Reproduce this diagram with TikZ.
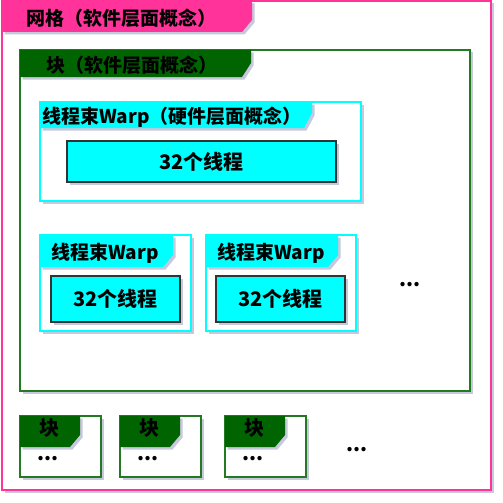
\documentclass[tikz,border=0pt]{standalone}
\usepackage{fontspec}
\newfontfamily\cjk{Noto Sans CJK SC}
\usetikzlibrary{shadows}

\definecolor{gridpink}{RGB}{255,51,153}
\definecolor{blockgreen}{RGB}{0,100,0}
\definecolor{blockline}{RGB}{35,122,35}
\definecolor{warpcyan}{RGB}{0,255,255}
\definecolor{shadowgray}{RGB}{175,178,205}

\begin{document}
\begin{tikzpicture}[x=1pt, y=-1pt, font=\cjk\bfseries\fontsize{20}{22}\selectfont]

% Define styles
\tikzstyle{shade} = [drop shadow={shadow xshift=2.5pt, shadow yshift=-2.5pt, fill=shadowgray, opacity=0.7}]
\tikzstyle{frame} = [rectangle, fill=white, line width=1.2pt, outer sep=0pt, inner sep=0pt, shade]
\tikzstyle{gridframe} = [frame, draw=gridpink]
\tikzstyle{blockframe} = [frame, draw=blockline]
\tikzstyle{warpframe} = [frame, draw=warpcyan]
\tikzstyle{gridtab} = [fill=gridpink, shade]
\tikzstyle{blocktab} = [fill=blockgreen, shade]
\tikzstyle{warptab} = [fill=warpcyan, shade]
\tikzstyle{threads} = [rectangle, draw=black!80, line width=1.6pt, fill=warpcyan, outer sep=0pt, shade]
\tikzstyle{title} = [anchor=west, inner sep=0pt, font=\cjk\bfseries\fontsize{19}{21}\selectfont]
\tikzstyle{more} = [inner sep=0pt, text height=4pt, text depth=0pt]

\useasboundingbox (0,0) rectangle (503,503);

% Grid
\node [gridframe, minimum width=489pt, minimum height=489pt] (grid) at (246.5,245.5) {};
\fill [gridtab] (grid.north west) -- ++(250,0) -- ++(0,19) -- ++(-10,12) -- ++(-240,0) -- cycle;
\node [title] (grid_title) at (26,18) {网格（软件层面概念）};

% Block
\node [blockframe, minimum width=450pt, minimum height=341pt] (block) at (245,220.5) {};
\fill [blocktab] (block.north west) -- ++(231,0) -- ++(0,13) -- ++(-9,14) -- ++(-222,0) -- cycle;
\node [title] (block_title) at (46,65) {块（软件层面概念）};

% Warp with title
\node [warpframe, minimum width=321pt, minimum height=99pt] (warp) at (200.5,151.5) {};
\fill [warptab] (warp.north west) -- ++(272,0) -- ++(0,11) -- ++(-8,15) -- ++(-264,0) -- cycle;
\node [title] (warp_title) at (42,117) {线程束Warp（硬件层面概念）};
\node [threads, minimum width=269pt, minimum height=41pt] (warp_threads) at (201.5,161.5) {32个线程};

% Two more warps
\node [warpframe, minimum width=151pt, minimum height=96pt] (warp_b) at (115.5,283) {};
\fill [warptab] (warp_b.north west) -- ++(133,0) -- ++(0,20) -- ++(-10,12) -- ++(-123,0) -- cycle;
\node [title] (warp_b_title) at (51,253) {线程束Warp};
\node [threads, minimum width=129pt, minimum height=46pt] (warp_b_threads) at (115.5,299) {32个线程};

\node [warpframe, minimum width=150pt, minimum height=96pt] (warp_c) at (281,283) {};
\fill [warptab] (warp_c.north west) -- ++(132,0) -- ++(0,20) -- ++(-10,12) -- ++(-122,0) -- cycle;
\node [title] (warp_c_title) at (217,253) {线程束Warp};
\node [threads, minimum width=129pt, minimum height=46pt] (warp_c_threads) at (280.5,299) {32个线程};

\node [more] (warp_more) at (410,284) {...};

% Other blocks
\node [blockframe, minimum width=81pt, minimum height=61pt] (block_b) at (60.5,446.5) {};
\fill [blocktab] (block_b.north west) -- ++(60,0) -- ++(0,19) -- ++(-10,12) -- ++(-50,0) -- cycle;
\node [more] (block_b_title) at (49,433) {块};
\node [more] (block_b_more) at (48,458) {...};

\node [blockframe, minimum width=81pt, minimum height=61pt] (block_c) at (160.5,446.5) {};
\fill [blocktab] (block_c.north west) -- ++(60,0) -- ++(0,19) -- ++(-10,12) -- ++(-50,0) -- cycle;
\node [more] (block_c_title) at (149,433) {块};
\node [more] (block_c_more) at (148,458) {...};

\node [blockframe, minimum width=81pt, minimum height=61pt] (block_d) at (265.5,446.5) {};
\fill [blocktab] (block_d.north west) -- ++(60,0) -- ++(0,19) -- ++(-10,12) -- ++(-50,0) -- cycle;
\node [more] (block_d_title) at (254,433) {块};
\node [more] (block_d_more) at (253,458) {...};

\node [more] (block_more) at (357,449) {...};

\end{tikzpicture}
\end{document}
